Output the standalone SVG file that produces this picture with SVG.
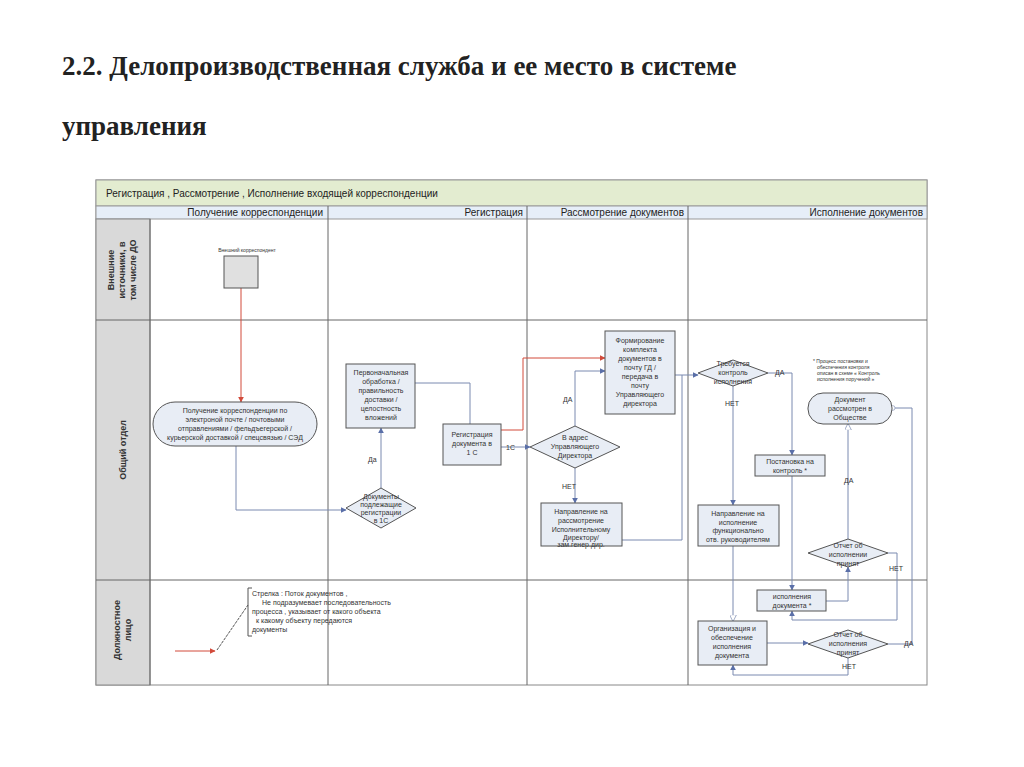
<svg xmlns="http://www.w3.org/2000/svg" width="1024" height="767" viewBox="0 0 1024 767">
<defs>
<marker id="a" viewBox="0 0 10 10" refX="9" refY="5" markerWidth="6" markerHeight="6" orient="auto"><path d="M0,0L10,5L0,10z" fill="#5a6fa8"/></marker>
<marker id="r" viewBox="0 0 10 10" refX="9" refY="5" markerWidth="6" markerHeight="6" orient="auto"><path d="M0,0L10,5L0,10z" fill="#d24a3a"/></marker>
<marker id="h" viewBox="0 0 10 10" refX="9" refY="5" markerWidth="7" markerHeight="7" orient="auto"><path d="M0,0L10,5L0,10z" fill="#fff" stroke="#7a8ab0"/></marker>
<marker id="c" viewBox="0 0 10 10" refX="1" refY="5" markerWidth="6" markerHeight="6" orient="auto"><circle cx="5" cy="5" r="4" fill="#fff" stroke="#7a8ab0"/></marker>
</defs>
<style>
.t{font-family:"Liberation Sans",Arial,sans-serif;fill:#333}
.s{font-size:7px}
.xs{font-size:5px}
.h{font-size:10px;fill:#222}
.box{fill:#e8edf5;stroke:#555;stroke-width:1}
.ln{fill:none;stroke:#7a8ab0;stroke-width:1}
.rd{fill:none;stroke:#d24a3a;stroke-width:1}
.grid{stroke:#666;stroke-width:1;fill:none}
</style>
<rect width="1024" height="767" fill="#fff"/>
<text x="62" y="75" font-family="Liberation Serif,serif" font-weight="bold" font-size="27" fill="#222">2.2. Делопроизводственная служба и ее место в системе</text>
<text x="62" y="135" font-family="Liberation Serif,serif" font-weight="bold" font-size="27" fill="#222">управления</text>
<g id="frame">
<rect x="96" y="180" width="831" height="505" fill="#fff" stroke="#888"/>
<rect x="96" y="180" width="831" height="26" fill="#e3ecd0" stroke="#999"/>
<rect x="96" y="206" width="831" height="13" fill="#e6eef8" stroke="#999"/>
<rect x="96" y="219" width="54" height="466" fill="#d9d9d9" stroke="#888"/>
<line class="grid" x1="96" y1="320" x2="927" y2="320"/>
<line class="grid" x1="96" y1="580" x2="927" y2="580"/>
<line class="grid" x1="328" y1="206" x2="328" y2="685"/>
<line class="grid" x1="527" y1="206" x2="527" y2="685"/>
<line class="grid" x1="688" y1="206" x2="688" y2="685"/>
<line class="grid" x1="150" y1="219" x2="150" y2="685"/>
<text class="t h" x="106" y="197">Регистрация ,  Рассмотрение ,     Исполнение входящей корреспонденции</text>
<text class="t h" x="323" y="216" text-anchor="end">Получение корреспонденции</text>
<text class="t h" x="523" y="216" text-anchor="end">Регистрация</text>
<text class="t h" x="684" y="216" text-anchor="end">Рассмотрение документов</text>
<text class="t h" x="923" y="216" text-anchor="end">Исполнение документов</text>
<g class="t" font-size="9" font-weight="bold" text-anchor="middle">
<text transform="translate(123,270) rotate(-90)"><tspan x="0" y="-9">Внешние</tspan><tspan x="0" y="2">источники, в</tspan><tspan x="0" y="13">том числе ДО</tspan></text>
<text transform="translate(126,450) rotate(-90)">Общий отдел</text>
<text transform="translate(123,630) rotate(-90)"><tspan x="0" y="-3">Должностное</tspan><tspan x="0" y="8">лицо</tspan></text>
</g>
</g>
<g id="connectors">
<path class="rd" d="M241,288V402" marker-end="url(#r)"/>
<path class="ln" d="M236,446V510H346" marker-end="url(#a)"/>
<path class="ln" d="M381,488V428" marker-end="url(#a)"/>
<path class="ln" d="M415,383H470V424"/>
<path class="ln" d="M501,447H530" marker-end="url(#a)"/>
<path class="rd" d="M501,430H523V358H605" marker-end="url(#r)"/>
<path class="ln" d="M575,426V371H605" marker-end="url(#a)"/>
<path class="ln" d="M575,468V503" marker-end="url(#a)"/>
<path class="ln" d="M622,540H682V375"/>
<path class="ln" d="M675,375H698" marker-end="url(#a)"/>
<path class="ln" d="M768,373H792V455" marker-end="url(#a)"/>
<path class="ln" d="M733,386V505" marker-end="url(#a)"/>
<path class="ln" d="M792,476V590" marker-end="url(#a)"/>
<path class="ln" d="M733,546V621" marker-end="url(#h)"/>
<path class="ln" d="M826,601H848V567" marker-end="url(#a)"/>
<path class="ln" d="M848,539V424" marker-end="url(#h)"/>
<path class="ln" d="M888,553H897V620H792V611" marker-end="url(#a)"/>
<path class="ln" d="M767,643H808" marker-end="url(#a)"/>
<path class="ln" d="M912,644V408H895" marker-end="url(#c)"/>
<path class="ln" d="M888,644H912"/>
<path class="ln" d="M848,658V675H733V665" marker-end="url(#a)"/>
<g class="t s">
<text x="368" y="462">Да</text>
<text x="506" y="450">1С</text>
<text x="563" y="402">ДА</text>
<text x="562" y="489">НЕТ</text>
<text x="775" y="375">ДА</text>
<text x="725" y="406">НЕТ</text>
<text x="844" y="483">ДА</text>
<text x="889" y="571">НЕТ</text>
<text x="904" y="646">ДА</text>
<text x="842" y="669">НЕТ</text>
</g>
</g>
<g id="n1"><text class="t xs" x="247" y="252" text-anchor="middle">Внешний корреспондент</text><rect x="224" y="256" width="34" height="32" fill="#e0e0e0" stroke="#555"/></g>
<g id="n2"><rect class="box" x="153" y="402" width="164" height="44" rx="22"/>
<text class="t s" text-anchor="middle" x="235"><tspan x="235" y="413">Получение корреспонденции по</tspan><tspan x="235" y="422">электроной почте   /  почтовыми</tspan><tspan x="235" y="431">отправлениями  /  фельдъегерской  /</tspan><tspan x="235" y="440">курьерской доставкой  / спецсвязью  / СЭД</tspan></text></g>
<g id="n3"><rect class="box" x="346" y="364" width="69" height="64"/>
<text class="t s" text-anchor="middle"><tspan x="381" y="375">Первоначальная</tspan><tspan x="381" y="384">обработка  /</tspan><tspan x="381" y="393">правильность</tspan><tspan x="381" y="402">доставки  /</tspan><tspan x="381" y="411">целостность</tspan><tspan x="381" y="420">вложений</tspan></text></g>
<g id="n4"><rect class="box" x="443" y="424" width="58" height="41"/>
<text class="t s" text-anchor="middle"><tspan x="472" y="437">Регистрация</tspan><tspan x="472" y="446">документа в</tspan><tspan x="472" y="455">1 С</tspan></text></g>
<g id="n5"><path class="box" d="M346,508L381,488L416,508L381,528z"/>
<text class="t s" text-anchor="middle"><tspan x="381" y="499">Документы</tspan><tspan x="381" y="507">подлежащие</tspan><tspan x="381" y="515">регистрации</tspan><tspan x="381" y="523">в 1С</tspan></text></g>
<g id="n6"><path class="box" d="M530,447L575,426L620,447L575,468z"/>
<text class="t s" text-anchor="middle"><tspan x="575" y="440">В адрес</tspan><tspan x="575" y="449">Управляющего</tspan><tspan x="575" y="458">Директора</tspan></text></g>
<g id="n7"><rect class="box" x="605" y="331" width="70" height="83"/>
<text class="t s" text-anchor="middle"><tspan x="640" y="343">Формирование</tspan><tspan x="640" y="352">комплекта</tspan><tspan x="640" y="361">документов в</tspan><tspan x="640" y="370">почту ГД  /</tspan><tspan x="640" y="379">передача в</tspan><tspan x="640" y="388">почту</tspan><tspan x="640" y="397">Управляющего</tspan><tspan x="640" y="406">директора</tspan></text></g>
<g id="n8"><rect class="box" x="541" y="503" width="81" height="43"/>
<text class="t s" text-anchor="middle"><tspan x="581" y="514">Направление на</tspan><tspan x="581" y="523">рассмотрение</tspan><tspan x="581" y="532">Исполнительному</tspan><tspan x="581" y="540">Директору/</tspan><tspan x="581" y="547">зам.генер.дир.</tspan></text></g>
<g id="n9"><path class="box" d="M698,373L733,360L768,373L733,386z"/>
<text class="t s" text-anchor="middle"><tspan x="733" y="366">Требуется</tspan><tspan x="733" y="375">контроль</tspan><tspan x="733" y="384">исполнения</tspan></text></g>
<g id="n10"><rect class="box" x="755" y="455" width="70" height="21"/>
<text class="t s" text-anchor="middle"><tspan x="790" y="464">Постановка на</tspan><tspan x="790" y="473">контроль *</tspan></text></g>
<g id="n11"><rect class="box" x="698" y="505" width="81" height="41"/>
<text class="t s" text-anchor="middle"><tspan x="738" y="516">Направление на</tspan><tspan x="738" y="525">исполнение</tspan><tspan x="738" y="533">функционально</tspan><tspan x="738" y="542">отв.   руководителям</tspan></text></g>
<g id="n12"><rect class="box" x="808" y="393" width="84" height="31" rx="15"/>
<text class="t s" text-anchor="middle"><tspan x="850" y="402">Документ</tspan><tspan x="850" y="411">рассмотрен в</tspan><tspan x="850" y="420">Обществе</tspan></text></g>
<g id="n13"><text class="t xs"><tspan x="813" y="363">*   Процесс постановки и</tspan><tspan x="817" y="369">обеспечения контроля</tspan><tspan x="817" y="375">описан в схеме  « Контроль</tspan><tspan x="817" y="381">исполнения поручений  »</tspan></text></g>
<g id="n14"><path class="box" d="M808,553L848,539L888,553L848,567z"/>
<text class="t s" text-anchor="middle"><tspan x="848" y="548">Отчет об</tspan><tspan x="848" y="557">исполнении</tspan><tspan x="848" y="566">принят</tspan></text></g>
<g id="n15"><rect class="box" x="757" y="590" width="69" height="21"/>
<text class="t s" text-anchor="middle"><tspan x="792" y="599">исполнения</tspan><tspan x="792" y="608">документа *</tspan></text></g>
<g id="n16"><rect class="box" x="698" y="621" width="69" height="44"/>
<text class="t s" text-anchor="middle"><tspan x="732" y="631">Организация и</tspan><tspan x="732" y="640">обеспечение</tspan><tspan x="732" y="649">исполнения</tspan><tspan x="732" y="658">документа</tspan></text></g>
<g id="n17"><path class="box" d="M808,644L848,630L888,644L848,658z"/>
<text class="t s" text-anchor="middle"><tspan x="848" y="637">Отчет об</tspan><tspan x="848" y="646">исполнения</tspan><tspan x="848" y="655">принят</tspan></text></g>
<g id="legend">
<path d="M252,588H248V636H252" fill="none" stroke="#555"/>
<text class="t s"><tspan x="252" y="596">Стрелка  :   Поток документов   ,</tspan><tspan x="262" y="605">Не подразумевает последовательность</tspan><tspan x="252" y="614">процесса   ,    указывает от какого объекта</tspan><tspan x="256" y="623">к какому объекту передаются</tspan><tspan x="252" y="632">документы</tspan></text>
<path class="rd" d="M175,651H215" marker-end="url(#r)"/>
<path d="M217,650L248,605" stroke="#555" fill="none" stroke-dasharray="3,1"/>
</g>
</svg>
